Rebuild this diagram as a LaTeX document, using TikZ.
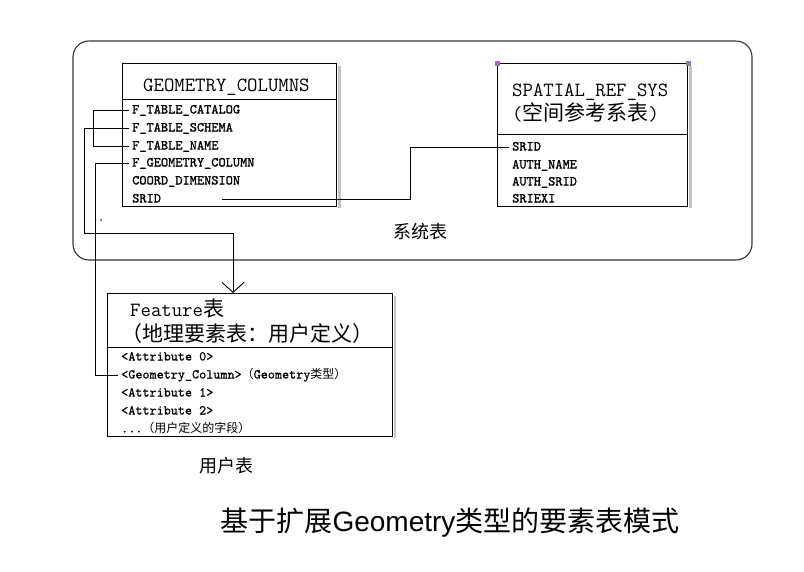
\documentclass[tikz,border=0pt]{standalone}
\usepackage{fontspec}
\setmainfont{Liberation Sans}
\newfontfamily\cjk{Noto Sans CJK SC}
\newfontfamily\rowtt{lmmono10-regular.otf}[FakeBold=1.3]
\newfontfamily\frowtt{lmmono10-regular.otf}[FakeBold=0.7]
\usepackage{tikz}
\usetikzlibrary{positioning, arrows.meta}
\definecolor{markpink}{RGB}{180,100,200}
\definecolor{shadegrey}{RGB}{195,195,195}
\newcommand{\hz}[1]{{\cjk\fontsize{21}{25}\selectfont #1}}
\newcommand{\cz}[1]{{\cjk\fontsize{12}{14}\selectfont #1}}

\begin{document}
\begin{tikzpicture}[x=1pt,y=-1pt,
    tbl/.style={draw,rectangle,line width=1.1pt,inner sep=0pt,anchor=north west},
    title/.style={anchor=base west,inner sep=0pt,font=\ttfamily\fontsize{20.2}{25}\selectfont},
    row/.style={anchor=west,inner xsep=3pt,inner ysep=0pt,text height=9pt,text depth=2pt,font=\rowtt\fontsize{13.7}{15}\selectfont},
    frow/.style={row,font=\frowtt\fontsize{13.5}{15}\selectfont},
    shade/.style={shadegrey,line width=2.5pt},
    conn/.style={line width=0.9pt}]
  \useasboundingbox (0,0) rectangle (804,571);
  \draw[line width=1.1pt,rounded corners=16pt,black!80] (73,41) rectangle (752,260);

  \node[tbl,minimum width=214pt,minimum height=36pt] (ghead) at (122,63) {};
  \node[tbl,minimum width=214pt,minimum height=107pt] (gbody) at (122,99) {};
  \draw[shade] ([shift={(2.5pt,-3pt)}]ghead.north east) -- ([shift={(2.5pt,-1pt)}]gbody.south east);
  \node[title] (gtitle) at (143,91) {GEOMETRY\_COLUMNS};
  \node[row] (gcat) at (129,110) {F\_TABLE\_CATALOG};
  \node[row] (gsch) at (129,128) {F\_TABLE\_SCHEMA};
  \node[row] (gname) at (129,146) {F\_TABLE\_NAME};
  \node[row] (ggeo) at (129,163) {F\_GEOMETRY\_COLUMN};
  \node[row] (gdim) at (129,181) {COORD\_DIMENSION};
  \node[row] (gsrid) at (129,199) {SRID};

  \node[tbl,minimum width=190pt,minimum height=71pt] (shead) at (497,63) {};
  \node[tbl,minimum width=190pt,minimum height=72pt] (sbody) at (497,134) {};
  \draw[shade] ([shift={(2.5pt,-3pt)}]shead.north east) -- ([shift={(2.5pt,-1pt)}]sbody.south east);
  \fill[markpink] (shead.north west) +(-2.5,-2.5) rectangle +(2.5,2.5);
  \fill[markpink] (shead.north east) +(-2.5,-2.5) rectangle +(2.5,2.5);
  \node[title] (stitle) at (512,96) {SPATIAL\_REF\_SYS};
  \node[title] (ssub) at (512,120) {(\hz{空间参考系表})};
  \node[row] (ssrid) at (509,147) {SRID};
  \node[row] (sname) at (509,165) {AUTH\_NAME};
  \node[row] (sasrid) at (509,182) {AUTH\_SRID};
  \node[row] (sext) at (509,199) {SRIEXI};

  \node[tbl,minimum width=285pt,minimum height=54pt] (fhead) at (107,293) {};
  \node[tbl,minimum width=285pt,minimum height=89pt] (fbody) at (107,347) {};
  \draw[shade,line width=1.5pt] ([shift={(2pt,-3pt)}]fhead.north east) -- ([shift={(2pt,-1pt)}]fbody.south east);
  \node[title] (ftitle) at (130,316) {Feature\hz{表}};
  \node[title] (fsub) at (121,341) {\hz{（地理要素表：用户定义）}};
  \node[frow] (fatt0) at (118,357) {<Attribute 0>};
  \node[frow] (fgeo) at (118,375) {<Geometry\_Column>\cz{（}Geometry\cz{类型）}};
  \node[frow] (fatt1) at (118,393) {<Attribute 1>};
  \node[frow] (fatt2) at (118,411) {<Attribute 2>};
  \node[frow] (fmore) at (118,429) {...\cz{（用户定义的字段）}};

  \coordinate (jschema) at (233,233);
  \draw[conn] (gcat.west) -| (93,146) -- (gname.west);
  \draw[conn,-{Straight Barb[length=10pt,width=22pt]}] (gsch.west) -| (84,233) -- (jschema) -- (jschema |- fhead.north);
  \draw[conn] (ggeo.west) -| (95,375) -- (fgeo.west);
  \draw[conn] ([xshift=93pt]gsrid.west) -| (410,147) -- (ssrid.west);
  \fill (101,220) circle (0.8);

  \node[font=\cjk\fontsize{18}{18}\selectfont] (systab) at (420,232) {系统表};
  \node[font=\cjk\fontsize{18}{18}\selectfont] (usertab) at (226,466) {用户表};
  \node[font=\fontsize{28}{28}\selectfont] (caption) at (450,523) {{\cjk 基于扩展}Geometry{\cjk 类型的要素表模式}};
\end{tikzpicture}
\end{document}
